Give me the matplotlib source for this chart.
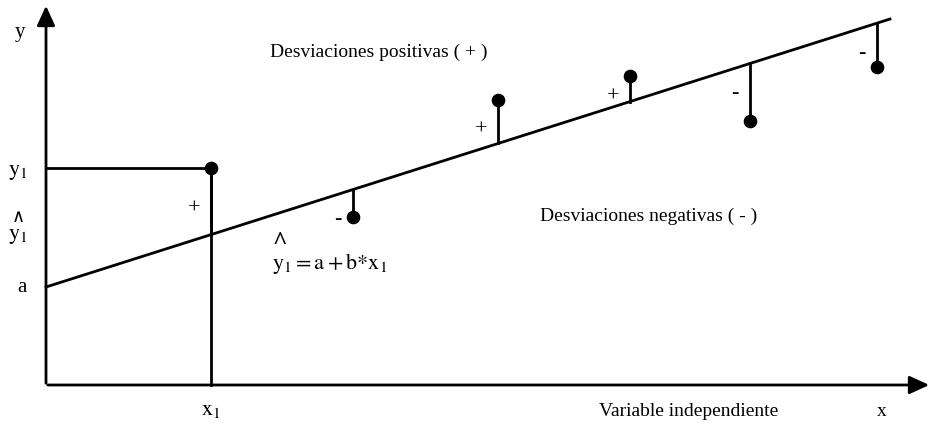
import matplotlib.pyplot as plt

plt.rcParams['font.family'] = ['Liberation Serif', 'DejaVu Serif']
plt.rcParams['mathtext.fontset'] = 'stix'

# recta de regresion y = a + b*x
a = 98
b = 0.3175
x_fin = 844

# observaciones (x, y)
obs_x = [165, 307, 452, 584, 704, 831]
obs_y = [217, 168, 285, 309, 264, 318]
signos = ['+', '-', '+', '+', '-', '-']

fig = plt.figure(figsize=(9.3, 4.29), dpi=100)
ax = fig.add_axes([0, 0, 1, 1])
ax.set_xlim(-46, 884)
ax.set_ylim(-44, 385)
ax.axis('off')

lw = 2.0
# ejes con flechas
ax.annotate('', xy=(886, 0), xytext=(-1, 0), annotation_clip=False,
            arrowprops=dict(arrowstyle='-|>,head_length=1.2,head_width=0.55', color='black', lw=lw))
ax.annotate('', xy=(0, 382), xytext=(0, -1), annotation_clip=False,
            arrowprops=dict(arrowstyle='-|>,head_length=1.2,head_width=0.55', color='black', lw=lw))

# recta
ax.plot([0, x_fin], [a, a + b * x_fin], color='black', lw=lw)

# desviaciones
for xi, yi, s in zip(obs_x, obs_y, signos):
    yl = a + b * xi
    ax.plot([xi, xi], [yl, yi], color='black', lw=lw)
    ax.plot(xi, yi, 'o', color='black', ms=8.8)
    if s == '+':
        ax.text(xi - 17, (yi + yl) / 2 - 8, '+', fontsize=16, ha='center', va='center')
    else:
        ax.text(xi - 15, yl - 30, '-', fontsize=16, ha='center', va='center')

# y1 y x1
ax.plot([0, obs_x[0]], [obs_y[0], obs_y[0]], color='black', lw=lw)
ax.plot([obs_x[0], obs_x[0]], [obs_y[0], 0], color='black', lw=lw)

fs = 14
ax.text(-31, 353, 'y', fontsize=fs + 1, ha='left', va='center')
ax.text(-38, 213, r'$\mathrm{y}_1$', fontsize=fs + 2, ha='left', va='center')
ax.text(-28, 167, '∧', fontsize=fs - 1, ha='center', va='center')
ax.text(-38, 148, r'$\mathrm{y}_1$', fontsize=fs + 2, ha='left', va='center')
ax.text(-29, 98, 'a', fontsize=fs + 1, ha='left', va='center')
ax.text(165, -26, r'$\mathrm{x}_1$', fontsize=fs + 2, ha='center', va='center')
ax.text(553, -26, 'Variable independiente', fontsize=fs, ha='left', va='center')
ax.text(836, -26, 'x', fontsize=fs, ha='center', va='center')
ax.text(224, 333, 'Desviaciones positivas ( + )', fontsize=fs, ha='left', va='center')
ax.text(494, 169, 'Desviaciones negativas ( - )', fontsize=fs, ha='left', va='center')
ax.text(234, 143, '^', fontsize=fs + 4, ha='center', va='center', fontweight='bold')
ax.text(226, 121, r'$\mathrm{y}_1 = \mathrm{a} + \mathrm{b}{*}\mathrm{x}_1$', fontsize=fs + 2,
        ha='left', va='center')

fig.savefig('out.png', dpi=100)
